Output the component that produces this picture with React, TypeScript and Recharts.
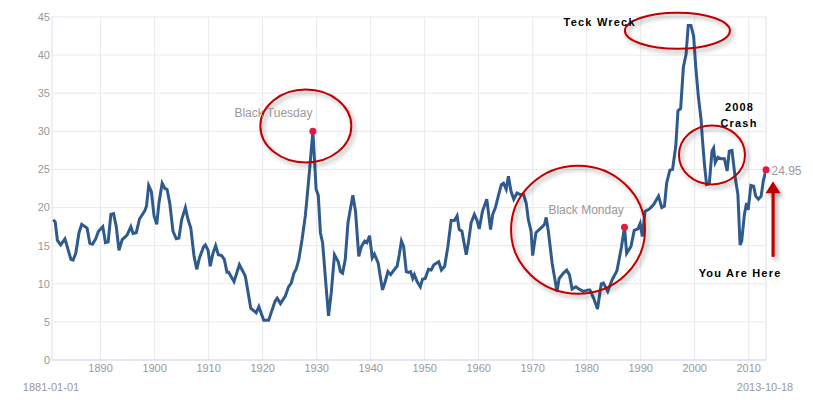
import React from 'react';
import { LineChart, Line, XAxis, YAxis, CartesianGrid, ReferenceDot, ReferenceLine } from 'recharts';

// Shiller PE (decimal years)
const years = [
  1881.2, 1881.6, 1882.0, 1882.6, 1883.4, 1884.5, 1884.9, 1885.4, 1886.0, 1886.5,
  1887.5, 1888.0, 1888.5, 1889.1, 1889.6, 1890.4, 1890.9, 1891.4, 1891.9, 1892.4,
  1892.9, 1893.4, 1894.0, 1894.9, 1895.6, 1896.0, 1896.6, 1897.2, 1898.2, 1898.5,
  1898.9, 1899.4, 1899.9, 1900.4, 1900.8, 1901.4, 1901.9, 1902.3, 1902.8, 1903.4,
  1904.0, 1904.5, 1905.0, 1905.7, 1906.2, 1906.7, 1907.3, 1907.8, 1908.3, 1909.1,
  1909.4, 1909.9, 1910.3, 1910.8, 1911.3, 1911.8, 1912.4, 1912.9, 1913.4, 1913.7,
  1914.7, 1915.7, 1916.8, 1917.8, 1918.8, 1919.3, 1920.2, 1921.1, 1922.3, 1922.7,
  1923.3, 1924.2, 1924.8, 1925.3, 1925.8, 1926.2, 1926.7, 1927.3, 1927.9, 1928.2,
  1928.7, 1929.3, 1929.6, 1929.9, 1930.3, 1930.7, 1931.1, 1931.8, 1932.2, 1932.7,
  1933.3, 1934.0, 1934.4, 1934.8, 1935.3, 1935.8, 1936.7, 1937.2, 1937.8, 1938.3,
  1938.9, 1939.3, 1939.8, 1940.3, 1940.7, 1941.4, 1942.0, 1942.2, 1942.7, 1943.2,
  1943.7, 1944.3, 1944.9, 1945.3, 1945.7, 1946.1, 1946.6, 1947.0, 1947.4, 1947.8,
  1948.1, 1948.6, 1949.2, 1949.6, 1950.1, 1950.7, 1951.2, 1951.7, 1952.6, 1953.1,
  1953.7, 1954.3, 1954.9, 1955.5, 1956.0, 1956.4, 1956.9, 1957.7, 1958.1, 1958.6,
  1959.2, 1959.7, 1960.1, 1960.7, 1961.5, 1962.2, 1962.6, 1963.1, 1963.7, 1964.2,
  1964.6, 1965.1, 1965.5, 1966.0, 1966.5, 1967.1, 1967.7, 1968.3, 1968.8, 1969.2,
  1969.7, 1970.0, 1970.6, 1971.2, 1971.8, 1972.2, 1972.5, 1972.9, 1973.6, 1974.5,
  1974.9, 1975.7, 1976.3, 1976.8, 1977.3, 1978.0, 1978.6, 1979.4, 1980.3, 1980.6,
  1981.3, 1982.0, 1982.7, 1983.1, 1983.9, 1984.7, 1985.6, 1986.4, 1987.0, 1987.4,
  1988.2, 1988.8, 1989.5, 1989.9, 1990.3, 1990.8, 1991.6, 1992.4, 1993.3, 1993.9,
  1994.4, 1994.8, 1995.4, 1995.9, 1996.5, 1996.9, 1997.4, 1997.9, 1998.4, 1998.8,
  1999.3, 1999.8, 2000.2, 2000.7, 2001.2, 2001.4, 2001.8, 2002.2, 2002.7, 2003.2,
  2003.5, 2003.8, 2004.3, 2004.9, 2005.5, 2006.0, 2006.4, 2006.9, 2007.5, 2008.0,
  2008.4, 2008.7, 2009.2, 2009.6, 2009.9, 2010.4, 2010.9, 2011.3, 2011.8, 2012.3,
  2012.7, 2013.2,
];

const pe = [
  18.4, 18.1, 15.7, 15.1, 15.9, 13.2, 13.1, 14.0, 16.7, 17.8,
  17.3, 15.3, 15.2, 15.9, 16.9, 17.5, 15.4, 15.5, 19.1, 19.2,
  17.5, 14.4, 15.8, 16.4, 17.5, 16.6, 16.7, 18.5, 19.6, 20.2,
  22.9, 22.1, 18.9, 17.8, 20.6, 23.2, 22.5, 22.4, 20.6, 16.9,
  15.9, 16.0, 18.4, 20.0, 18.4, 17.3, 13.6, 11.9, 13.4, 14.9,
  15.1, 14.4, 12.3, 14.0, 15.0, 13.8, 13.7, 13.2, 11.5, 11.5,
  10.3, 12.5, 11.0, 6.8, 6.2, 7.0, 5.2, 5.2, 7.7, 8.1,
  7.4, 8.4, 9.6, 10.1, 11.4, 11.9, 13.2, 15.8, 18.9, 21.1,
  25.0, 30.0, 26.3, 22.4, 21.6, 16.7, 15.4, 9.2, 5.8, 8.8,
  13.8, 12.9, 11.6, 11.4, 13.2, 18.0, 21.6, 19.5, 13.6, 14.9,
  15.6, 15.4, 16.3, 13.4, 13.9, 12.7, 10.0, 9.2, 10.3, 11.6,
  11.2, 11.8, 12.3, 13.8, 15.6, 14.9, 11.6, 11.5, 11.6, 10.7,
  11.2, 10.3, 9.6, 10.6, 10.7, 11.9, 11.8, 12.5, 12.9, 11.8,
  12.3, 14.9, 18.3, 18.3, 18.9, 17.1, 16.9, 13.8, 15.4, 18.0,
  19.1, 18.3, 17.2, 19.5, 21.1, 17.1, 19.1, 20.0, 21.7, 23.0,
  23.2, 22.4, 24.1, 22.1, 21.1, 21.9, 21.7, 21.7, 20.6, 18.4,
  16.9, 13.7, 16.7, 17.1, 17.5, 17.8, 18.7, 16.9, 12.7, 9.0,
  10.7, 11.4, 11.8, 11.2, 9.3, 9.6, 9.3, 9.0, 9.2, 9.2,
  8.1, 6.7, 10.0, 10.1, 9.0, 10.5, 11.7, 14.7, 17.4, 14.0,
  14.9, 17.0, 17.2, 17.9, 16.2, 19.5, 19.8, 20.4, 21.5, 20.0,
  20.2, 23.2, 24.9, 25.0, 28.1, 32.7, 33.0, 38.4, 40.1, 43.9,
  43.9, 42.5, 38.4, 34.4, 31.4, 29.2, 25.7, 23.0, 23.1, 27.4,
  27.8, 25.9, 26.6, 26.4, 26.4, 24.8, 27.4, 27.5, 23.9, 21.7,
  15.1, 15.6, 19.1, 20.6, 19.7, 22.9, 22.8, 21.5, 21.1, 21.5,
  23.5, 24.95,
];

const xTicks = [1890, 1900, 1910, 1920, 1930, 1940, 1950, 1960, 1970, 1980, 1990, 2000, 2010];
const yTicks = [0, 5, 10, 15, 20, 25, 30, 35, 40, 45];
const startLabel = '1881-01-01';
const endLabel = '2013-10-18';
const markedYears = [1929.3, 1987.0, 2013.2];

const data = years.map((year, i) => ({ year, pe: pe[i] }));
const marked = markedYears.map((y) => data[years.indexOf(y)]);
const last = data[data.length - 1];

const FONT = '"Liberation Sans", Arial, Helvetica, sans-serif';
const GRID = '#e9e9f1';
const RING = '#c00000';
const DOT = '#e8173c';

// annotation rings: centre in data space, radii in px
const rings = [
  { x: 1928.0, y: 30.7, rx: 45.5, ry: 36.5 },
  { x: 1978.4, y: 17.1, rx: 67, ry: 64 },
  { x: 1996.8, y: 43.2, rx: 52.5, ry: 18 },
  { x: 2003.2, y: 26.9, rx: 33, ry: 29.5 },
];

const notes = [
  { x: 1922.0, y: 32.4, text: 'Black Tuesday', bold: false },
  { x: 1979.9, y: 19.7, text: 'Black Monday', bold: false },
  { x: 1982.4, y: 44.3, text: 'Teck Wreck', bold: true },
  { x: 2008.3, y: 33.2, text: '2008', bold: true },
  { x: 2008.2, y: 31.1, text: 'Crash', bold: true },
  { x: 2008.4, y: 11.4, text: 'You Are Here', bold: true },
];

const ringShape = (rx: number, ry: number) => (p: any) => (
  <ellipse cx={p.cx} cy={p.cy} rx={rx} ry={ry} fill="none" stroke={RING} strokeWidth={2} filter="url(#ringShadow)" />
);

const noteShape = (text: string, bold: boolean) => (p: any) => (
  <text
    x={p.cx}
    y={p.cy}
    textAnchor="middle"
    dominantBaseline="central"
    fontFamily={FONT}
    fontSize={bold ? 11 : 12}
    fontWeight={bold ? 'bold' : 'normal'}
    letterSpacing={bold ? 1.2 : 0}
    fill={bold ? '#000' : '#999'}
  >
    {text}
  </text>
);

const edgeLabel = (text: string) => (p: any) => (
  <text x={p.cx - 1} y={p.cy + 27} textAnchor="middle" dominantBaseline="central" fontFamily={FONT} fontSize={11} fill="#999">
    {text}
  </text>
);

// arrow + value label hanging off the last point
const lastShape = (p: any) => (
  <g>
    <g filter="url(#ringShadow)">
      <rect x={p.cx + 5.5} y={p.cy + 22} width={3.2} height={65} fill="#c00000" />
      <polygon
        points={`${p.cx + 7},${p.cy + 11.5} ${p.cx + 14.5},${p.cy + 23.5} ${p.cx - 0.5},${p.cy + 23.5}`}
        fill="#c00000"
      />
    </g>
    <circle cx={p.cx} cy={p.cy} r={3.5} fill={DOT} />
    <text x={p.cx + 5.5} y={p.cy + 1} dominantBaseline="central" fontFamily={FONT} fontSize={12} fill="#999">
      {last.pe}
    </text>
  </g>
);

export default function App() {
  return (
    <div style={{ position: 'absolute', left: 0, top: 0, width: 813, height: 410, background: '#fff' }}>
      <svg width={0} height={0} style={{ position: 'absolute' }}>
        <defs>
          <filter id="ringShadow" x="-30%" y="-30%" width="160%" height="160%">
            <feDropShadow dx={2.5} dy={3} stdDeviation={2} floodColor="#000" floodOpacity={0.35} />
          </filter>
        </defs>
      </svg>
      <LineChart width={813} height={410} data={data} margin={{ top: 17, right: 47, bottom: 20, left: 12 }}>
        <CartesianGrid stroke={GRID} strokeWidth={1} />
        <XAxis
          dataKey="year"
          type="number"
          domain={[1881, 2013.2]}
          ticks={xTicks}
          allowDataOverflow
          tickLine={false}
          tickSize={0}
          tickMargin={4}
          axisLine={{ stroke: '#d3d6e6' }}
          tick={{ fill: '#999', fontSize: 11, fontFamily: FONT }}
          height={30}
        />
        <YAxis
          domain={[0, 45]}
          ticks={yTicks}
          tickLine={false}
          tickSize={0}
          tickMargin={2}
          axisLine={{ stroke: GRID }}
          tick={{ fill: '#999', fontSize: 11, fontFamily: FONT }}
          width={40}
        />
        <ReferenceLine x={2013.2} stroke={GRID} />
        <Line
          type="linear"
          dataKey="pe"
          stroke="#2f5a8c"
          strokeWidth={3}
          dot={false}
          activeDot={false}
          isAnimationActive={false}
        />
        {marked.slice(0, 2).map((d) => (
          <ReferenceDot key={d.year} x={d.year} y={d.pe} r={3.5} fill={DOT} stroke="none" ifOverflow="visible" />
        ))}
        <ReferenceDot x={last.year} y={last.pe} ifOverflow="visible" shape={lastShape} />
        {rings.map((r, i) => (
          <ReferenceDot key={'r' + i} x={r.x} y={r.y} ifOverflow="visible" shape={ringShape(r.rx, r.ry)} />
        ))}
        {notes.map((n) => (
          <ReferenceDot key={n.text} x={n.x} y={n.y} ifOverflow="visible" shape={noteShape(n.text, n.bold)} />
        ))}
        <ReferenceDot x={1881} y={0} ifOverflow="visible" shape={edgeLabel(startLabel)} />
        <ReferenceDot x={2013.2} y={0} ifOverflow="visible" shape={edgeLabel(endLabel)} />
      </LineChart>
    </div>
  );
}
